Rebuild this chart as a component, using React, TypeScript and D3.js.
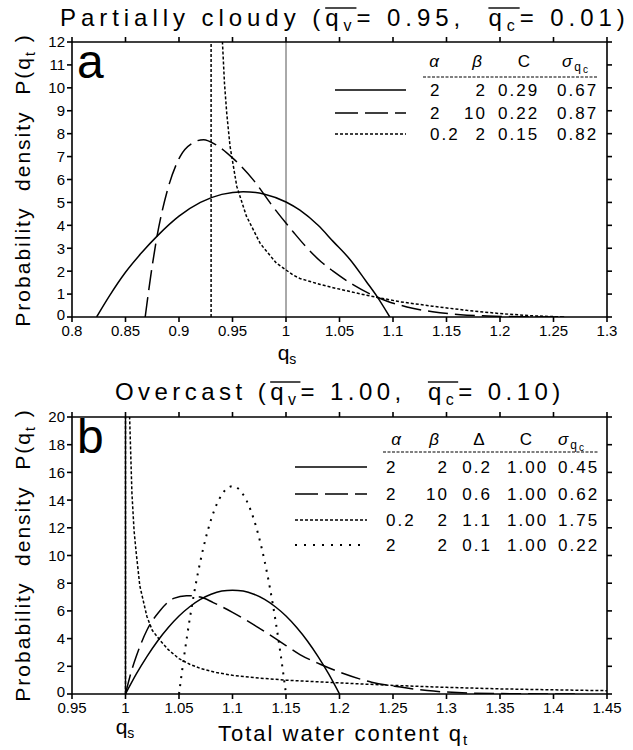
import React, { useLayoutEffect, useRef, useState } from "react";
import * as d3 from "d3";

const FONT = "'Liberation Sans', Arial, sans-serif";

// ---- panel a : partially cloudy ----
const aSolid: [number, number][] = [
  [0.823, 0], [0.835, 0.92], [0.85, 1.95], [0.865, 2.8], [0.88, 3.55], [0.9, 4.4],
  [0.92, 5.0], [0.94, 5.35], [0.96, 5.47], [0.98, 5.36], [1.0, 5.02], [1.013, 4.66],
  [1.03, 4.0], [1.044, 3.3], [1.06, 2.5], [1.075, 1.55], [1.085, 0.9], [1.097, 0],
];
const aDash: [number, number][] = [
  [0.8684, 0], [0.873, 1.6], [0.879, 3.4], [0.889, 5.5], [0.901, 7.0], [0.913, 7.6],
  [0.923, 7.74], [0.935, 7.5], [0.951, 6.9], [0.97, 5.95], [0.988, 4.8], [1.007, 3.7],
  [1.018, 3.1], [1.033, 2.4], [1.044, 2.0], [1.063, 1.4], [1.081, 0.95], [1.094, 0.7],
  [1.113, 0.44], [1.137, 0.23], [1.163, 0.1], [1.188, 0.045], [1.22, 0.01], [1.26, 0],
];
const aShort: [number, number][] = [
  [0.93, 0], [0.93, 13], [0.939, 13], [0.9406, 12], [0.9425, 10.2], [0.9446, 8.9],
  [0.9477, 7.45], [0.954, 5.7], [0.963, 4.4], [0.976, 3.2], [0.991, 2.35], [1.007, 1.82],
  [1.013, 1.68], [1.032, 1.42], [1.044, 1.28], [1.075, 0.95], [1.107, 0.66], [1.137, 0.47],
  [1.169, 0.29], [1.2, 0.15], [1.231, 0.05], [1.26, 0],
];

// ---- panel b : overcast ----
const bSolid: [number, number][] = [
  [1.0, 0], [1.01, 1.43], [1.02, 2.7], [1.03, 3.83], [1.04, 4.8], [1.05, 5.63], [1.06, 6.3],
  [1.07, 6.83], [1.08, 7.2], [1.09, 7.43], [1.1, 7.5], [1.11, 7.43], [1.12, 7.2], [1.13, 6.83],
  [1.14, 6.3], [1.15, 5.63], [1.16, 4.8], [1.17, 3.83], [1.18, 2.7], [1.19, 1.43], [1.2, 0],
];
const bDash: [number, number][] = [
  [1.0, 0], [1.005, 1.5], [1.01, 2.7], [1.02, 4.6], [1.032, 6.0], [1.045, 6.9], [1.057, 7.1],
  [1.07, 7.0], [1.082, 6.6], [1.1, 5.9], [1.126, 4.7], [1.15, 3.5], [1.163, 2.85], [1.182, 2.15],
  [1.203, 1.5], [1.23, 0.85], [1.257, 0.5], [1.282, 0.25], [1.31, 0.1], [1.35, 0.03], [1.42, 0],
];
const bShort: [number, number][] = [
  [1.0, 0], [1.0, 22], [1.003, 22], [1.004, 19.6], [1.006, 14.5], [1.008, 11.8], [1.01, 10.2],
  [1.0134, 7.8], [1.02, 5.6], [1.025, 4.6], [1.032, 3.9], [1.04, 3.2], [1.05, 2.55], [1.06, 2.15],
  [1.07, 1.85], [1.085, 1.55], [1.1, 1.35], [1.125, 1.15], [1.15, 1.0], [1.2, 0.8], [1.25, 0.62],
  [1.3, 0.48], [1.35, 0.37], [1.4, 0.3], [1.45, 0.24],
];
const bDot: [number, number][] = [
  [1.05, 0], [1.055, 2.85], [1.06, 5.4], [1.065, 7.65], [1.07, 9.6], [1.075, 11.25], [1.08, 12.6],
  [1.085, 13.65], [1.09, 14.4], [1.095, 14.85], [1.1, 15.0], [1.105, 14.85], [1.11, 14.4],
  [1.115, 13.65], [1.12, 12.6], [1.125, 11.25], [1.13, 9.6], [1.135, 7.65], [1.14, 5.4],
  [1.145, 2.85], [1.15, 0],
];

// ticks
const xLabelsA = ["0.8", "0.85", "0.9", "0.95", "1", "1.05", "1.1", "1.15", "1.2", "1.25", "1.3"];
const xLabelsB = ["0.95", "1", "1.05", "1.1", "1.15", "1.2", "1.25", "1.3", "1.35", "1.4", "1.45"];
const yTicksA = [0, 1, 2, 3, 4, 5, 6, 7, 8, 9, 10, 11, 12];
const yTicksB = [0, 2, 4, 6, 8, 10, 12, 14, 16, 18, 20];

// legend tables
const alphaA = ["2", "2", "0.2"];
const betaA = ["2", "10", "2"];
const cA = ["0.29", "0.22", "0.15"];
const sigmaA = ["0.67", "0.87", "0.82"];
const alphaB = ["2", "2", "0.2", "2"];
const betaB = ["2", "10", "2", "2"];
const deltaB = ["0.2", "0.6", "1.1", "0.1"];
const cB = ["1.00", "1.00", "1.00", "1.00"];
const sigmaB = ["0.45", "0.62", "1.75", "0.22"];

const X0 = 72;
const X1 = 607;

const dashes: Record<string, string | undefined> = {
  solid: undefined,
  dash: "20,7",
  short: "3,2",
  dot: "2,6",
};

function Title({ x, y, lead, s1, mid, s2, tail, ls }: any) {
  const ref = useRef<SVGTextElement>(null);
  const [bars, setBars] = useState<number[][]>([]);
  useLayoutEffect(() => {
    const t = ref.current;
    if (!t) return;
    const i1 = lead.length;
    const i2 = lead.length + 2 + mid.length;
    try {
      setBars([
        [t.getStartPositionOfChar(i1).x, t.getEndPositionOfChar(i1 + 1).x],
        [t.getStartPositionOfChar(i2).x, t.getEndPositionOfChar(i2 + 1).x],
      ]);
    } catch (e) {}
  }, []);
  return (
    <g>
      <text ref={ref} x={x} y={y} fontSize={24} letterSpacing={ls} fontFamily={FONT}
        style={{ whiteSpace: "pre" }} xmlSpace="preserve">
        <tspan>{lead}</tspan>
        <tspan>q</tspan>
        <tspan fontSize={16} dy={5}>{s1}</tspan>
        <tspan dy={-5}>{mid}</tspan>
        <tspan>q</tspan>
        <tspan fontSize={16} dy={5}>{s2}</tspan>
        <tspan dy={-5}>{tail}</tspan>
      </text>
      {bars.map((b, i) => (
        <line key={i} x1={b[0]} x2={b[1]} y1={y - 18} y2={y - 18} stroke="#000" strokeWidth={1.4} />
      ))}
    </g>
  );
}

function Panel({ id, xDomain, yDomain, top, bottom, xLabels, yTicks, series, qsColor, qsWidth, labelGap }: any) {
  const x = d3.scaleLinear().domain(xDomain).range([X0, X1]);
  const y = d3.scaleLinear().domain(yDomain).range([bottom, top]);
  const clip = `clip-${id}`;
  return (
    <g>
      <defs>
        <clipPath id={clip}>
          <rect x={X0} y={top} width={X1 - X0} height={bottom - top} />
        </clipPath>
      </defs>
      <line x1={x(1)} x2={x(1)} y1={bottom} y2={top} stroke={qsColor} strokeWidth={qsWidth} />
      <g clipPath={`url(#${clip})`}>
        {series.map((s: any, i: number) => {
          const line = d3
            .line<[number, number]>()
            .x((d) => x(d[0]))
            .y((d) => y(d[1]))
            .curve(s.smooth ? d3.curveMonotoneX : d3.curveLinear);
          return (
            <path key={i} d={line(s.data) || ""} fill="none" stroke="#000"
              strokeWidth={s.style === "dot" ? 2 : 1.5} strokeDasharray={dashes[s.style]} />
          );
        })}
      </g>
      {/* frame */}
      <g stroke="#000" strokeWidth={1.6} fill="none">
        <line x1={X0} x2={X1} y1={bottom} y2={bottom} />
        <line x1={X0} x2={X1} y1={top} y2={top} />
        <line x1={X0} x2={X0} y1={bottom} y2={top} />
        <line x1={X1} x2={X1} y1={bottom} y2={top} />
        {xLabels.map((l: string) => (
          <g key={l}>
            <line x1={x(+l)} x2={x(+l)} y1={bottom} y2={bottom + 5} />
            <line x1={x(+l)} x2={x(+l)} y1={top} y2={top - 5} />
          </g>
        ))}
        {yTicks.map((v: number) => (
          <g key={v}>
            <line x1={X0 - 5} x2={X0} y1={y(v)} y2={y(v)} />
            <line x1={X1} x2={X1 + 5} y1={y(v)} y2={y(v)} />
          </g>
        ))}
      </g>
      <g fontFamily={FONT} fontSize={15} fill="#000">
        {xLabels.map((l: string) => (
          <text key={l} x={x(+l)} y={bottom + labelGap} textAnchor="middle">{l}</text>
        ))}
        {yTicks.map((v: number) => (
          <text key={v} x={X0 - 7} y={y(v) - (v === 0 ? 2 : 0)} dy="0.36em" textAnchor="end">{v}</text>
        ))}
      </g>
      <text x={X0 + 5} y={top + 36} fontFamily={FONT} fontSize={48}>{id}</text>
    </g>
  );
}

function SigmaHead({ x, y }: any) {
  return (
    <text x={x} y={y} fontFamily={FONT} fontSize={17} fontStyle="italic">
      σ<tspan fontSize={12} fontStyle="normal" dy={4}>q</tspan>
      <tspan fontSize={10} fontStyle="normal" dy={2}>c</tspan>
    </text>
  );
}

function LegendA() {
  const rows = [90, 113, 134];
  const styles = ["solid", "dash", "short"];
  return (
    <g fontFamily={FONT} fontSize={17} letterSpacing={2}>
      <text x={435} y={67} textAnchor="middle" fontStyle="italic">α</text>
      <text x={478} y={67} textAnchor="middle" fontStyle="italic">β</text>
      <text x={525} y={67} textAnchor="middle">C</text>
      <SigmaHead x={562} y={67} />
      <line x1={423} x2={598} y1={77} y2={77} stroke="#000" strokeWidth={1.2} strokeDasharray="3,1.5" />
      {rows.map((r, i) => (
        <g key={i}>
          <line x1={335} x2={406} y1={r} y2={r} stroke="#000" strokeWidth={1.5}
            strokeDasharray={styles[i] === "dash" ? "23,7" : dashes[styles[i]]} />
          <text x={430} y={r + 6}>{alphaA[i]}</text>
          <text x={487} y={r + 6} textAnchor="end">{betaA[i]}</text>
          <text x={498} y={r + 6}>{cA[i]}</text>
          <text x={557} y={r + 6}>{sigmaA[i]}</text>
        </g>
      ))}
    </g>
  );
}

function LegendB() {
  const rows = [467, 494, 520, 545];
  const styles = ["solid", "dash", "short", "dot"];
  return (
    <g fontFamily={FONT} fontSize={17} letterSpacing={2}>
      <text x={397} y={445} textAnchor="middle" fontStyle="italic">α</text>
      <text x={435} y={445} textAnchor="middle" fontStyle="italic">β</text>
      <text x={480} y={445} textAnchor="middle">Δ</text>
      <text x={527} y={445} textAnchor="middle">C</text>
      <SigmaHead x={558} y={445} />
      <line x1={383} x2={598} y1={452} y2={452} stroke="#000" strokeWidth={1.2} strokeDasharray="3,1.5" />
      {rows.map((r, i) => (
        <g key={i}>
          <line x1={295} x2={367} y1={r} y2={r} stroke="#000" strokeWidth={styles[i] === "dot" ? 2 : 1.5}
            strokeDasharray={styles[i] === "dash" ? "23,7" : styles[i] === "dot" ? "2,7" : dashes[styles[i]]} />
          <text x={386} y={r + 6}>{alphaB[i]}</text>
          <text x={449} y={r + 6} textAnchor="end">{betaB[i]}</text>
          <text x={492} y={r + 6} textAnchor="end">{deltaB[i]}</text>
          <text x={507} y={r + 6}>{cB[i]}</text>
          <text x={558} y={r + 6}>{sigmaB[i]}</text>
        </g>
      ))}
    </g>
  );
}

function YLabel({ cy }: any) {
  return (
    <text transform={`translate(30,${cy}) rotate(-90)`} textAnchor="middle" fontFamily={FONT}
      fontSize={21} letterSpacing={2} style={{ whiteSpace: "pre" }} xmlSpace="preserve">
      {"Probability  density  P(q"}
      <tspan fontSize={14} dy={5}>t</tspan>
      <tspan dy={-5}>{" )"}</tspan>
    </text>
  );
}

export default function App() {
  return (
    <svg width={633} height={750} style={{ position: "absolute", left: 0, top: 0, background: "#fff" }}>
      <rect width={633} height={750} fill="#fff" />
      <Title x={60} y={26} ls={4.95} lead="Partially cloudy (" s1="v" mid="= 0.95,  " s2="c" tail="= 0.01)" />
      <Panel id="a" xDomain={[0.8, 1.3]} yDomain={[0, 12]} top={42} bottom={317} labelGap={19}
        xLabels={xLabelsA} yTicks={yTicksA} qsColor="#555" qsWidth={1}
        series={[
          { data: aSolid, style: "solid", smooth: true },
          { data: aDash, style: "dash", smooth: true },
          { data: aShort, style: "short", smooth: false },
        ]} />
      <LegendA />
      <YLabel cy={180} />
      <text x={287} y={360} textAnchor="middle" fontFamily={FONT} fontSize={21}>
        q<tspan fontSize={14} dy={4}>s</tspan>
      </text>

      <Title x={115} y={400} ls={4.45} lead="Overcast (" s1="v" mid="= 1.00,  " s2="c" tail="= 0.10)" />
      <Panel id="b" xDomain={[0.95, 1.45]} yDomain={[0, 20]} top={417} bottom={694} labelGap={19}
        xLabels={xLabelsB} yTicks={yTicksB} qsColor="#000" qsWidth={1.4}
        series={[
          { data: bSolid, style: "solid", smooth: true },
          { data: bDash, style: "dash", smooth: true },
          { data: bShort, style: "short", smooth: false },
          { data: bDot, style: "dot", smooth: true },
        ]} />
      <LegendB />
      <YLabel cy={555} />
      <text x={125} y={734} textAnchor="middle" fontFamily={FONT} fontSize={21}>
        q<tspan fontSize={14} dy={4}>s</tspan>
      </text>
      <text x={218} y={741} fontFamily={FONT} fontSize={22} letterSpacing={2}>
        Total water content q<tspan fontSize={15} dy={4}>t</tspan>
      </text>
    </svg>
  );
}
